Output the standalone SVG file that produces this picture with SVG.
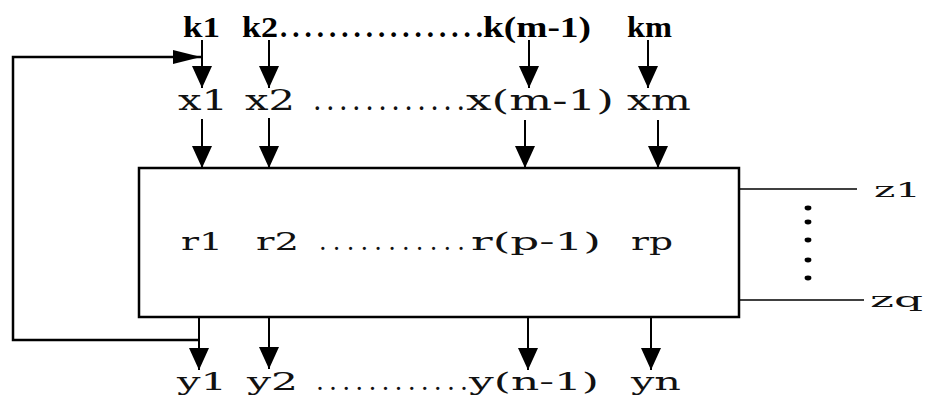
<svg xmlns="http://www.w3.org/2000/svg" width="925" height="397" viewBox="0 0 925 397">
<defs>
<style>
.k{font-family:"Liberation Serif",serif;font-weight:bold;font-size:29px;fill:#000}
.m{font-family:"DejaVu Serif",serif;font-size:27px;fill:#111}
.y{font-family:"DejaVu Serif",serif;font-size:25px;fill:#111}
.r{font-family:"DejaVu Serif",serif;font-size:24px;fill:#111}
.z{font-family:"DejaVu Serif",serif;font-size:21px;fill:#111}
.ar{stroke:#000;stroke-width:2;fill:none;marker-end:url(#ah)}
.ln{stroke:#000;fill:none}
</style>
<marker id="ah" markerUnits="userSpaceOnUse" markerWidth="22" markerHeight="20" refX="22" refY="10" orient="auto" viewBox="0 0 22 20">
<path d="M0,0 L22,10 L0,20 z" fill="#000"/>
</marker>
<marker id="ah2" markerUnits="userSpaceOnUse" markerWidth="28" markerHeight="14" refX="28" refY="7" orient="auto" viewBox="0 0 28 14">
<path d="M0,0 L28,7 L0,14 z" fill="#000"/>
</marker>
</defs>
<rect width="925" height="397" fill="#fff"/>

<g id="block">
<rect x="139" y="168" width="600" height="149" fill="#fff" stroke="#000" stroke-width="2.5"/>
</g>

<g id="connectors">
<line class="ar" x1="202" y1="40" x2="202" y2="88"/>
<line class="ar" x1="269" y1="40" x2="269" y2="88"/>
<line class="ar" x1="529" y1="40" x2="529" y2="88"/>
<line class="ar" x1="648" y1="40" x2="648" y2="88"/>
<line class="ar" x1="202" y1="119" x2="202" y2="168"/>
<line class="ar" x1="269" y1="118" x2="269" y2="168"/>
<line class="ar" x1="525" y1="120" x2="525" y2="168"/>
<line class="ar" x1="658" y1="120" x2="658" y2="168"/>
<line class="ar" x1="199" y1="317" x2="199" y2="370"/>
<line class="ar" x1="269" y1="317" x2="269" y2="369"/>
<line class="ar" x1="528" y1="317" x2="528" y2="370"/>
<line class="ar" x1="651" y1="317" x2="651" y2="370"/>
<path d="M200,340 H13 V57 H201" stroke="#000" stroke-width="2.5" fill="none" marker-end="url(#ah2)"/>
<line class="ln" stroke-width="1.5" x1="740" y1="189" x2="857" y2="189"/>
<line class="ln" stroke-width="1.5" x1="740" y1="300" x2="864" y2="300"/>
<g fill="#000">
<ellipse cx="808" cy="208" rx="3.4" ry="2.4"/>
<ellipse cx="808" cy="222" rx="3.4" ry="2.4"/>
<ellipse cx="808" cy="240" rx="3.4" ry="2.4"/>
<ellipse cx="808" cy="260" rx="3.4" ry="2.4"/>
<ellipse cx="808" cy="278" rx="3.4" ry="2.4"/>
</g>
</g>

<g id="k-labels">
<text class="k" x="183" y="37" textLength="37" lengthAdjust="spacingAndGlyphs">k1</text>
<text class="k" x="242" y="37" textLength="36" lengthAdjust="spacingAndGlyphs">k2</text>
<text class="k" x="280" y="37" textLength="203">.................</text>
<text class="k" x="483" y="37" textLength="108" lengthAdjust="spacingAndGlyphs">k(m-1)</text>
<text class="k" x="627" y="37" textLength="45" lengthAdjust="spacingAndGlyphs">km</text>
</g>

<g id="x-labels">
<text class="m" x="178" y="110" textLength="50" lengthAdjust="spacingAndGlyphs">x1</text>
<text class="m" x="245" y="110" textLength="50" lengthAdjust="spacingAndGlyphs">x2</text>
<text class="m" x="313" y="110" textLength="152">............</text>
<text class="m" x="466" y="110" textLength="148" lengthAdjust="spacingAndGlyphs">x(m-1)</text>
<text class="m" x="627" y="110" textLength="64" lengthAdjust="spacingAndGlyphs">xm</text>
</g>

<g id="r-labels">
<text class="r" x="181" y="250" textLength="42" lengthAdjust="spacingAndGlyphs">r1</text>
<text class="r" x="256" y="250" textLength="43" lengthAdjust="spacingAndGlyphs">r2</text>
<text class="r" x="319" y="250" textLength="146">...........</text>
<text class="r" x="471" y="250" textLength="130" lengthAdjust="spacingAndGlyphs">r(p-1)</text>
<text class="r" x="631" y="250" textLength="42" lengthAdjust="spacingAndGlyphs">rp</text>
</g>

<g id="y-labels">
<text class="y" x="177" y="390" textLength="50" lengthAdjust="spacingAndGlyphs">y1</text>
<text class="y" x="247" y="390" textLength="51" lengthAdjust="spacingAndGlyphs">y2</text>
<text class="y" x="316" y="390" textLength="152">............</text>
<text class="y" x="469" y="390" textLength="130" lengthAdjust="spacingAndGlyphs">y(n-1)</text>
<text class="y" x="631" y="390" textLength="50" lengthAdjust="spacingAndGlyphs">yn</text>
</g>

<g id="z-labels">
<text class="z" x="874" y="197" textLength="47" lengthAdjust="spacingAndGlyphs">z1</text>
<text class="z" x="870" y="307" textLength="53" lengthAdjust="spacingAndGlyphs">zq</text>
</g>
</svg>
